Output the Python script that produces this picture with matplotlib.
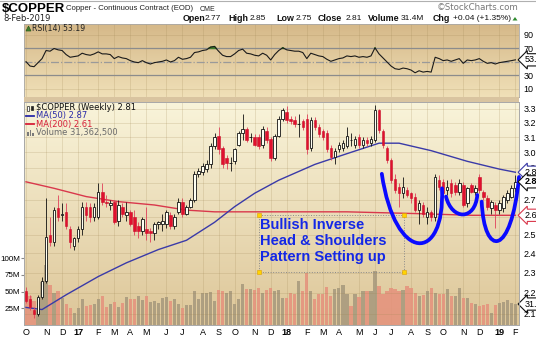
import numpy as np
import pandas as pd
import matplotlib
matplotlib.use("Agg")
import matplotlib.pyplot as plt
from matplotlib.path import Path
from matplotlib.patches import PathPatch, Rectangle, Polygon
from matplotlib.lines import Line2D
import matplotlib.transforms as mtrans

W, H = 536, 337
start_date = "2016-10-03"

opens = [2.21, 2.17, 2.12, 2.10, 2.18, 2.26, 2.50, 2.46, 2.65, 2.61,
         2.63, 2.53, 2.44, 2.48, 2.53, 2.66, 2.66, 2.60, 2.60, 2.75,
         2.69, 2.67, 2.69, 2.58, 2.66, 2.61, 2.63, 2.60, 2.55, 2.52,
         2.53, 2.52, 2.51, 2.56, 2.56, 2.56, 2.61, 2.55, 2.63, 2.69,
         2.62, 2.66, 2.70, 2.86, 2.87, 2.89, 2.92, 3.04, 3.11, 3.03,
         2.96, 2.93, 2.94, 3.05, 3.13, 3.16, 3.10, 3.10, 3.10, 3.05,
         3.14, 3.09, 2.96, 3.11, 3.23, 3.28, 3.23, 3.22, 3.19, 3.21,
         3.23, 3.03, 3.22, 3.17, 3.14, 3.13, 3.03, 2.97, 3.02, 3.03,
         3.04, 3.08, 3.05, 3.10, 3.05, 3.08, 3.06, 3.08, 3.29, 3.14,
         3.03, 2.95, 2.83, 2.78, 2.74, 2.76, 2.74, 2.72, 2.64, 2.67,
         2.60, 2.63, 2.60, 2.82, 2.81, 2.76, 2.80, 2.79, 2.75, 2.79,
         2.68, 2.79, 2.75, 2.84, 2.75, 2.71, 2.65, 2.67, 2.64, 2.65,
         2.70, 2.72, 2.77]
highs = [2.23, 2.19, 2.13, 2.19, 2.28, 2.71, 2.60, 2.66, 2.73, 2.68,
         2.68, 2.55, 2.49, 2.55, 2.69, 2.69, 2.68, 2.68, 2.80, 2.80,
         2.73, 2.70, 2.70, 2.70, 2.68, 2.69, 2.64, 2.64, 2.57, 2.60,
         2.66, 2.54, 2.57, 2.58, 2.62, 2.64, 2.63, 2.62, 2.71, 2.71,
         2.67, 2.71, 2.88, 2.90, 2.93, 2.95, 3.06, 3.13, 3.17, 3.04,
         2.98, 2.97, 3.03, 3.14, 3.26, 3.17, 3.13, 3.12, 3.12, 3.18,
         3.17, 3.10, 3.12, 3.25, 3.31, 3.32, 3.25, 3.25, 3.26, 3.23,
         3.26, 3.24, 3.24, 3.19, 3.16, 3.15, 3.05, 3.03, 3.07, 3.08,
         3.17, 3.13, 3.11, 3.12, 3.10, 3.10, 3.11, 3.33, 3.30, 3.16,
         3.04, 2.96, 2.86, 2.80, 2.84, 2.78, 2.75, 2.74, 2.70, 2.69,
         2.66, 2.64, 2.86, 2.85, 2.83, 2.82, 2.83, 2.81, 2.83, 2.81,
         2.78, 2.80, 2.79, 2.86, 2.76, 2.73, 2.70, 2.69, 2.70, 2.73,
         2.76, 2.79, 2.85]
lows = [2.15, 2.12, 2.08, 2.09, 2.17, 2.25, 2.44, 2.44, 2.58, 2.58,
        2.53, 2.43, 2.42, 2.46, 2.50, 2.58, 2.57, 2.58, 2.59, 2.67,
        2.66, 2.64, 2.56, 2.55, 2.60, 2.58, 2.55, 2.50, 2.48, 2.50,
        2.47, 2.46, 2.47, 2.53, 2.52, 2.54, 2.53, 2.53, 2.62, 2.60,
        2.61, 2.65, 2.69, 2.84, 2.85, 2.87, 2.90, 3.02, 2.99, 2.90,
        2.89, 2.88, 2.92, 3.04, 3.08, 3.07, 3.07, 3.04, 3.02, 3.03,
        3.06, 2.94, 2.95, 3.10, 3.21, 3.20, 3.19, 3.17, 3.10, 3.15,
        2.99, 3.01, 3.15, 3.10, 3.08, 3.00, 2.95, 2.92, 3.00, 3.01,
        3.03, 3.04, 3.03, 3.03, 3.03, 3.04, 3.04, 3.07, 3.13, 3.03,
        2.93, 2.80, 2.74, 2.66, 2.71, 2.72, 2.68, 2.63, 2.56, 2.60,
        2.56, 2.58, 2.58, 2.76, 2.72, 2.73, 2.72, 2.73, 2.73, 2.66,
        2.66, 2.74, 2.73, 2.74, 2.70, 2.64, 2.62, 2.54, 2.62, 2.63,
        2.68, 2.71, 2.75]
closes = [2.16, 2.13, 2.10, 2.18, 2.26, 2.49, 2.46, 2.64, 2.60, 2.62,
          2.55, 2.46, 2.48, 2.53, 2.66, 2.61, 2.60, 2.66, 2.75, 2.69,
          2.68, 2.68, 2.57, 2.67, 2.62, 2.63, 2.56, 2.52, 2.52, 2.59,
          2.51, 2.51, 2.56, 2.57, 2.58, 2.63, 2.55, 2.60, 2.69, 2.62,
          2.66, 2.70, 2.86, 2.88, 2.91, 2.92, 3.04, 3.10, 3.02, 2.92,
          2.93, 2.93, 3.02, 3.13, 3.16, 3.08, 3.10, 3.05, 3.04, 3.16,
          3.08, 2.96, 3.11, 3.23, 3.29, 3.22, 3.21, 3.19, 3.19, 3.17,
          3.02, 3.22, 3.17, 3.12, 3.10, 3.02, 2.97, 3.01, 3.05, 3.06,
          3.11, 3.08, 3.09, 3.05, 3.08, 3.06, 3.09, 3.29, 3.15, 3.05,
          2.95, 2.82, 2.76, 2.74, 2.78, 2.73, 2.71, 2.64, 2.68, 2.62,
          2.63, 2.60, 2.84, 2.78, 2.74, 2.78, 2.74, 2.75, 2.80, 2.67,
          2.77, 2.75, 2.77, 2.76, 2.72, 2.66, 2.69, 2.64, 2.68, 2.72,
          2.74, 2.77, 2.81]
volume_m = [48, 43, 36, 22, 64, 90, 60, 48, 51, 40,
            32, 25, 18, 25, 39, 28, 30, 31, 39, 43,
            27, 31, 35, 27, 33, 42, 39, 39, 43, 37,
            43, 35, 36, 33, 40, 42, 36, 39, 31, 25,
            30, 30, 51, 39, 48, 48, 50, 36, 52, 51,
            48, 51, 31, 39, 62, 54, 54, 52, 55, 48,
            52, 55, 51, 52, 40, 40, 48, 46, 66, 51,
            78, 51, 39, 46, 46, 57, 43, 54, 55, 60,
            46, 28, 46, 42, 51, 51, 51, 81, 58, 46,
            51, 55, 54, 51, 52, 58, 55, 48, 43, 45,
            51, 55, 48, 46, 46, 54, 43, 43, 55, 40,
            40, 33, 31, 28, 30, 31, 18, 30, 33, 35,
            37, 33, 31.4]
rsi = [50.5, 44, 43, 49, 55, 67, 66, 70, 68, 67,
       61, 57, 58, 59, 63, 61, 60, 62, 65, 62,
       62, 61, 55, 58, 56, 55, 52, 50, 49, 52,
       49, 47, 49, 50, 51, 53, 50, 52, 57, 54,
       55, 57, 64, 65, 67, 68, 72, 73, 66, 60,
       58, 58, 62, 67, 69, 63, 62, 60, 59, 63,
       60, 53, 61, 67, 71, 68, 67, 66, 66, 64,
       55, 63, 61, 59, 58, 54, 51, 53, 55, 56,
       59, 58, 59, 57, 58, 57, 59, 71, 62, 56,
       50, 44, 40, 39, 41, 40, 38, 34, 37, 35,
       36, 35, 57, 55, 52, 53, 51, 53, 55, 48,
       53, 52, 53, 55, 51, 48, 49, 47, 49, 50,
       51, 52, 53.19]
ma50_weeks = [0, 4, 10, 18, 25, 33, 40, 47, 52, 57, 63, 72, 80, 88, 93, 101, 110, 118, 122]
ma50_vals = [2.13, 2.12, 2.19, 2.28, 2.35, 2.42, 2.47, 2.57, 2.66, 2.74, 2.82, 2.92, 2.99, 3.06, 3.06, 3.01, 2.94, 2.89, 2.87]
ma200_weeks = [0, 7, 15, 23, 32, 40, 47, 63, 80, 97, 111, 122]
ma200_vals = [2.81, 2.77, 2.72, 2.69, 2.67, 2.64, 2.63, 2.63, 2.63, 2.62, 2.61, 2.61]
price_ticks = [2.1, 2.2, 2.3, 2.4, 2.5, 2.6, 2.7, 2.8, 2.9, 3.0, 3.1, 3.2, 3.3]
hidden_price_labels = [2.6, 2.8]
rsi_ticks = [10, 30, 70, 90]
vol_ticks_m = [25, 50, 75, 100]

# annotation shapes (week index, price)
pattern_curves = [
    [(88.7, 2.86), (92.0, 2.345), (104.5, 2.345), (103.7, 2.77)],
    [(104.7, 2.72), (106.2, 2.579), (112.0, 2.579), (112.5, 2.73)],
    [(113.6, 2.69), (114.2, 2.376), (121.0, 2.376), (122.9, 2.84)],
]
note_box = (58.1, 94.3, 2.303, 2.61)
note_text = "Bullish Inverse\nHead & Shoulders\nPattern Setting up"

o = np.array(opens); h = np.array(highs); l = np.array(lows); c = np.array(closes)
v = np.array(volume_m) * 1e6
r = np.array(rsi)
n = len(c)
x = np.arange(n)
dates = pd.date_range(start_date, periods=n, freq="7D")

fig = plt.figure(figsize=(W / 100, H / 100), dpi=100)
fig.patch.set_facecolor("white")

def fx(px):
    return px / W

def fy(py):
    return 1 - py / H

L, R = 24, 519
rsi_top, rsi_bot = 24, 97
pr_top, pr_bot = 102, 325

def rect(top, bot):
    return [fx(L), fy(bot), (R - L) / W, (bot - top) / H]

def grad_axes(rc, c_top, c_bot):
    a = fig.add_axes(rc)
    t = np.linspace(0, 1, 200)[:, None, None]
    img = (np.array(c_top)[None, None, :] * (1 - t) + np.array(c_bot)[None, None, :] * t) / 255.0
    a.imshow(img, aspect="auto", extent=[0, 1, 0, 1], origin="upper")
    a.set_axis_off()
    return a

# band between panels
fig.add_artist(Rectangle((fx(L), fy(102)), (R - L) / W, 5 / H, transform=fig.transFigure,
                         facecolor="#d9c4a0", edgecolor="none"))
fig.add_artist(Line2D([0, 1], [fy(0.6), fy(0.6)], transform=fig.transFigure, color="#b0b0b0", lw=0.8))

grad_axes(rect(rsi_top, rsi_bot), (213, 184, 136), (240, 224, 184))
grad_axes(rect(pr_top, pr_bot), (249, 244, 218), (221, 198, 152))

ax_r = fig.add_axes(rect(rsi_top, rsi_bot)); ax_r.patch.set_alpha(0)
ax_v = fig.add_axes(rect(pr_top, pr_bot)); ax_v.patch.set_alpha(0)
ax_p = fig.add_axes(rect(pr_top, pr_bot)); ax_p.patch.set_alpha(0)

XL = (-0.5, 122.9)
for a in (ax_r, ax_v, ax_p):
    a.set_xlim(*XL)
    for s in a.spines.values():
        s.set_color("#a8a8a8"); s.set_linewidth(0.6)

# month ticks
tick_idx, tick_lab, tick_bold = [], [], []
prev = None
for i, d in enumerate(dates):
    if prev is None or d.month != prev:
        tick_idx.append(i)
        if d.month == 1:
            tick_lab.append(d.strftime("%y")); tick_bold.append(True)
        else:
            tick_lab.append("JFMAMJJASOND"[d.month - 1]); tick_bold.append(False)
    prev = d.month

gridc = (0.62, 0.52, 0.32, 0.28)
for i in tick_idx:
    ax_v.axvline(i, color=gridc, lw=0.5, zorder=0)
    ax_r.axvline(i, color=gridc, lw=0.5, zorder=0)

# ---- RSI panel
ax_r.set_ylim(-1.9, 106.3)
for lv in (10, 90):
    ax_r.axhline(lv, color=gridc, lw=0.5, zorder=0)
for lv in (30, 70):
    ax_r.axhline(lv, color="#8c8c8c", lw=0.9, zorder=1)
ax_r.axhline(50, color="#9a9a9a", lw=0.9, ls="-.", zorder=1)
ax_r.fill_between(x, r, 70, where=r > 70, interpolate=True, color="#3f7f2c", zorder=2)
ax_r.plot(x, r, color="#1a1a1a", lw=0.8, zorder=3)
ax_r.set_xticks([])
ax_r.yaxis.tick_right()
ax_r.set_yticks(rsi_ticks)
ax_r.set_yticklabels([str(t) for t in rsi_ticks], fontsize=6.5, family="Liberation Sans")
ax_r.tick_params(axis="y", length=0, pad=3)
fig.text(fx(32), fy(28.5), "RSI(14) 53.19", fontsize=5.6, va="center", ha="left",
         family="DejaVu Sans", color="#222222")
fig.add_artist(Polygon([[fx(26), fy(31)], [fx(28.5), fy(26)], [fx(31), fy(31)]], closed=True,
                       transform=fig.transFigure, facecolor="#3f7f2c", edgecolor="#2a5a1c", lw=0.5))

# ---- Volume
ax_v.set_ylim(0, 334e6)
vcol = ["#e5917c" if (i > 0 and c[i] < c[i - 1]) or i == 0 else "#a6987c" for i in range(n)]
ax_v.bar(x, v, width=0.8, color=vcol, alpha=0.85, zorder=2, linewidth=0)
ax_v.set_xticks([])
ax_v.set_yticks([t * 1e6 for t in vol_ticks_m])
ax_v.set_yticklabels([f"{t}M" for t in vol_ticks_m], fontsize=5.8, family="Liberation Sans")
ax_v.tick_params(axis="y", length=2, pad=0.5, color="#888888")

# ---- Price
ax_p.set_yscale("log")
ax_p.set_ylim(2.049, 3.351)
for p in price_ticks:
    ax_p.axhline(p, color=gridc, lw=0.5, zorder=0)
ax_p.plot(ma200_weeks, ma200_vals, color="#d9384c", lw=1.0, zorder=2)
ax_p.plot(ma50_weeks, ma50_vals, color="#3a3aa8", lw=1.0, zorder=2)

up = c >= o
bot = np.minimum(o, c)
hgt = np.abs(c - o)
ax_p.vlines(x[up], l[up], h[up], color="#111111", lw=0.6, zorder=3)
ax_p.vlines(x[~up], l[~up], h[~up], color="#e0405a", lw=0.6, zorder=3)
ax_p.bar(x[up], hgt[up], bottom=bot[up], width=0.64, facecolor="#fffff2", edgecolor="#111111",
         lw=0.6, zorder=4)
ax_p.bar(x[~up], hgt[~up], bottom=bot[~up], width=0.64, facecolor="#e0102e", edgecolor="#c8102a",
         lw=0.4, zorder=4)

ax_p.yaxis.tick_right()
ax_p.yaxis.set_major_locator(matplotlib.ticker.FixedLocator(price_ticks))
ax_p.yaxis.set_minor_locator(matplotlib.ticker.NullLocator())
ax_p.set_yticklabels(["" if t in hidden_price_labels else f"{t:.1f}" for t in price_ticks],
                     fontsize=6.5, family="Liberation Sans")
ax_p.tick_params(axis="y", length=0, pad=3)
ax_p.set_xticks(tick_idx)
ax_p.set_xticklabels(tick_lab, fontsize=6.5, family="Liberation Sans")
for lab, b in zip(ax_p.get_xticklabels(), tick_bold):
    if b:
        lab.set_fontweight("bold")
ax_p.tick_params(axis="x", length=0, pad=2)

# pattern curves
for pts in pattern_curves:
    path = Path(pts, [Path.MOVETO, Path.CURVE4, Path.CURVE4, Path.CURVE4])
    ax_p.add_patch(PathPatch(path, fill=False, edgecolor="#0a0aff", lw=2.7,
                             capstyle="round", zorder=6, clip_on=False))

# note box
x0, x1, y0, y1 = note_box
ax_p.plot([x0, x1, x1, x0, x0], [y1, y1, y0, y0, y1], color="#8a8a8a", lw=0.7, ls=":", zorder=5)
ax_p.scatter([x0, x1, x0, x1], [y0, y0, y1, y1], marker="s", s=7, facecolor="#ffd400",
             edgecolor="#e0a000", linewidths=0.4, zorder=7)
ax_p.text(x0 + 0.3, 2.592, note_text, color="#1428e6", fontsize=10.5, fontweight="bold",
          family="Liberation Sans", va="top", ha="left", linespacing=1.15, zorder=7)

# right-side value tags
def tag(ax, yv, txt, ec, bold=False):
    tr = mtrans.blended_transform_factory(ax.transAxes, ax.transData)
    ax.text(1.0115, yv, txt, transform=tr, fontsize=6.5, family="Liberation Sans",
            fontweight="bold" if bold else "normal", va="center", ha="left", clip_on=False,
            zorder=8, bbox=dict(boxstyle="larrow,pad=0.18", fc="white", ec=ec, lw=0.8))

tag(ax_p, ma50_vals[-1], f"{ma50_vals[-1]:.2f}", "#3a3aa8")
tag(ax_p, closes[-1], f"{closes[-1]:.2f}", "#111111", bold=True)
tag(ax_p, ma200_vals[-1], f"{ma200_vals[-1]:.2f}", "#d9384c")
tag(ax_v, v[-1], "31.36M", "#111111")
tag(ax_r, r[-1], f"{r[-1]:.2f}", "#111111")

# price panel legend
lg = dict(fontsize=6, va="center", ha="left", family="DejaVu Sans")
fig.text(fx(36), fy(107.7), "$COPPER (Weekly) 2.81", color="#111111", parse_math=False, **lg)
fig.text(fx(36), fy(115.9), "MA(50) 2.87", color="#2a2aa8", **lg)
fig.text(fx(36), fy(124.3), "MA(200) 2.61", color="#d8203a", **lg)
fig.text(fx(36), fy(132.7), "Volume 31,362,500", color="#6a6a6a", **lg)
fig.add_artist(Line2D([fx(26), fx(34)], [fy(115.9)] * 2, transform=fig.transFigure, color="#2a2aa8", lw=1.3))
fig.add_artist(Line2D([fx(26), fx(34)], [fy(124.3)] * 2, transform=fig.transFigure, color="#d8203a", lw=1.3))
for bx, bh in [(27, 4), (29.5, 6), (32, 3)]:
    fig.add_artist(Rectangle((fx(bx), fy(135.5)), 1.6 / W, bh / H, transform=fig.transFigure,
                             facecolor="#7a7a7a", edgecolor="none"))
fig.add_artist(Rectangle((fx(27), fy(110.5)), 2 / W, 5 / H, transform=fig.transFigure,
                         facecolor="white", edgecolor="#222222", lw=0.5))
fig.add_artist(Rectangle((fx(30.5), fy(110)), 2 / W, 4 / H, transform=fig.transFigure,
                         facecolor="#222222", edgecolor="#222222", lw=0.5))

# header
fig.text(fx(2), fy(8.5), "$COPPER", fontsize=9.5, fontweight="bold", va="center", ha="left",
         family="Liberation Sans", parse_math=False)
fig.text(fx(66), fy(9), "Copper - Continuous Contract (EOD)", fontsize=5.6, va="center", ha="left",
         family="Liberation Sans", color="#222222")
fig.text(fx(200), fy(9.3), "CME", fontsize=5.0, va="center", ha="left", family="Liberation Sans",
         color="#222222")
fig.text(fx(3), fy(18.5), "8-Feb-2019", fontsize=6.0, va="center", ha="left", family="DejaVu Sans",
         color="#222222")
fig.text(fx(519), fy(7.5), "\u00a9StockCharts.com", fontsize=6.2, va="center", ha="right",
         family="DejaVu Sans", color="#777777")
header_items = [(183, "Open", True), (205, "2.77", False), (228, "High", True), (250, "2.85", False),
                (276, "Low", True), (296, "2.75", False), (318, "Close", True), (346, "2.81", False),
                (368, "Volume", True), (401, "31.4M", False), (433, "Chg", True),
                (453, "+0.04 (+1.35%)", False)]
for hx, txt, b in header_items:
    fig.text(fx(hx), fy(18.5), txt, fontsize=6.4 if b else 6.0, fontweight="bold" if b else "normal",
             va="center", ha="left", family="Liberation Sans", color="#111111")
fig.add_artist(Polygon([[fx(512.5), fy(20.5)], [fx(515), fy(17)], [fx(517.5), fy(20.5)]], closed=True,
                       transform=fig.transFigure, facecolor="#2e8b2e", edgecolor="none"))

fig.savefig("out.png", dpi=100, facecolor="white")
